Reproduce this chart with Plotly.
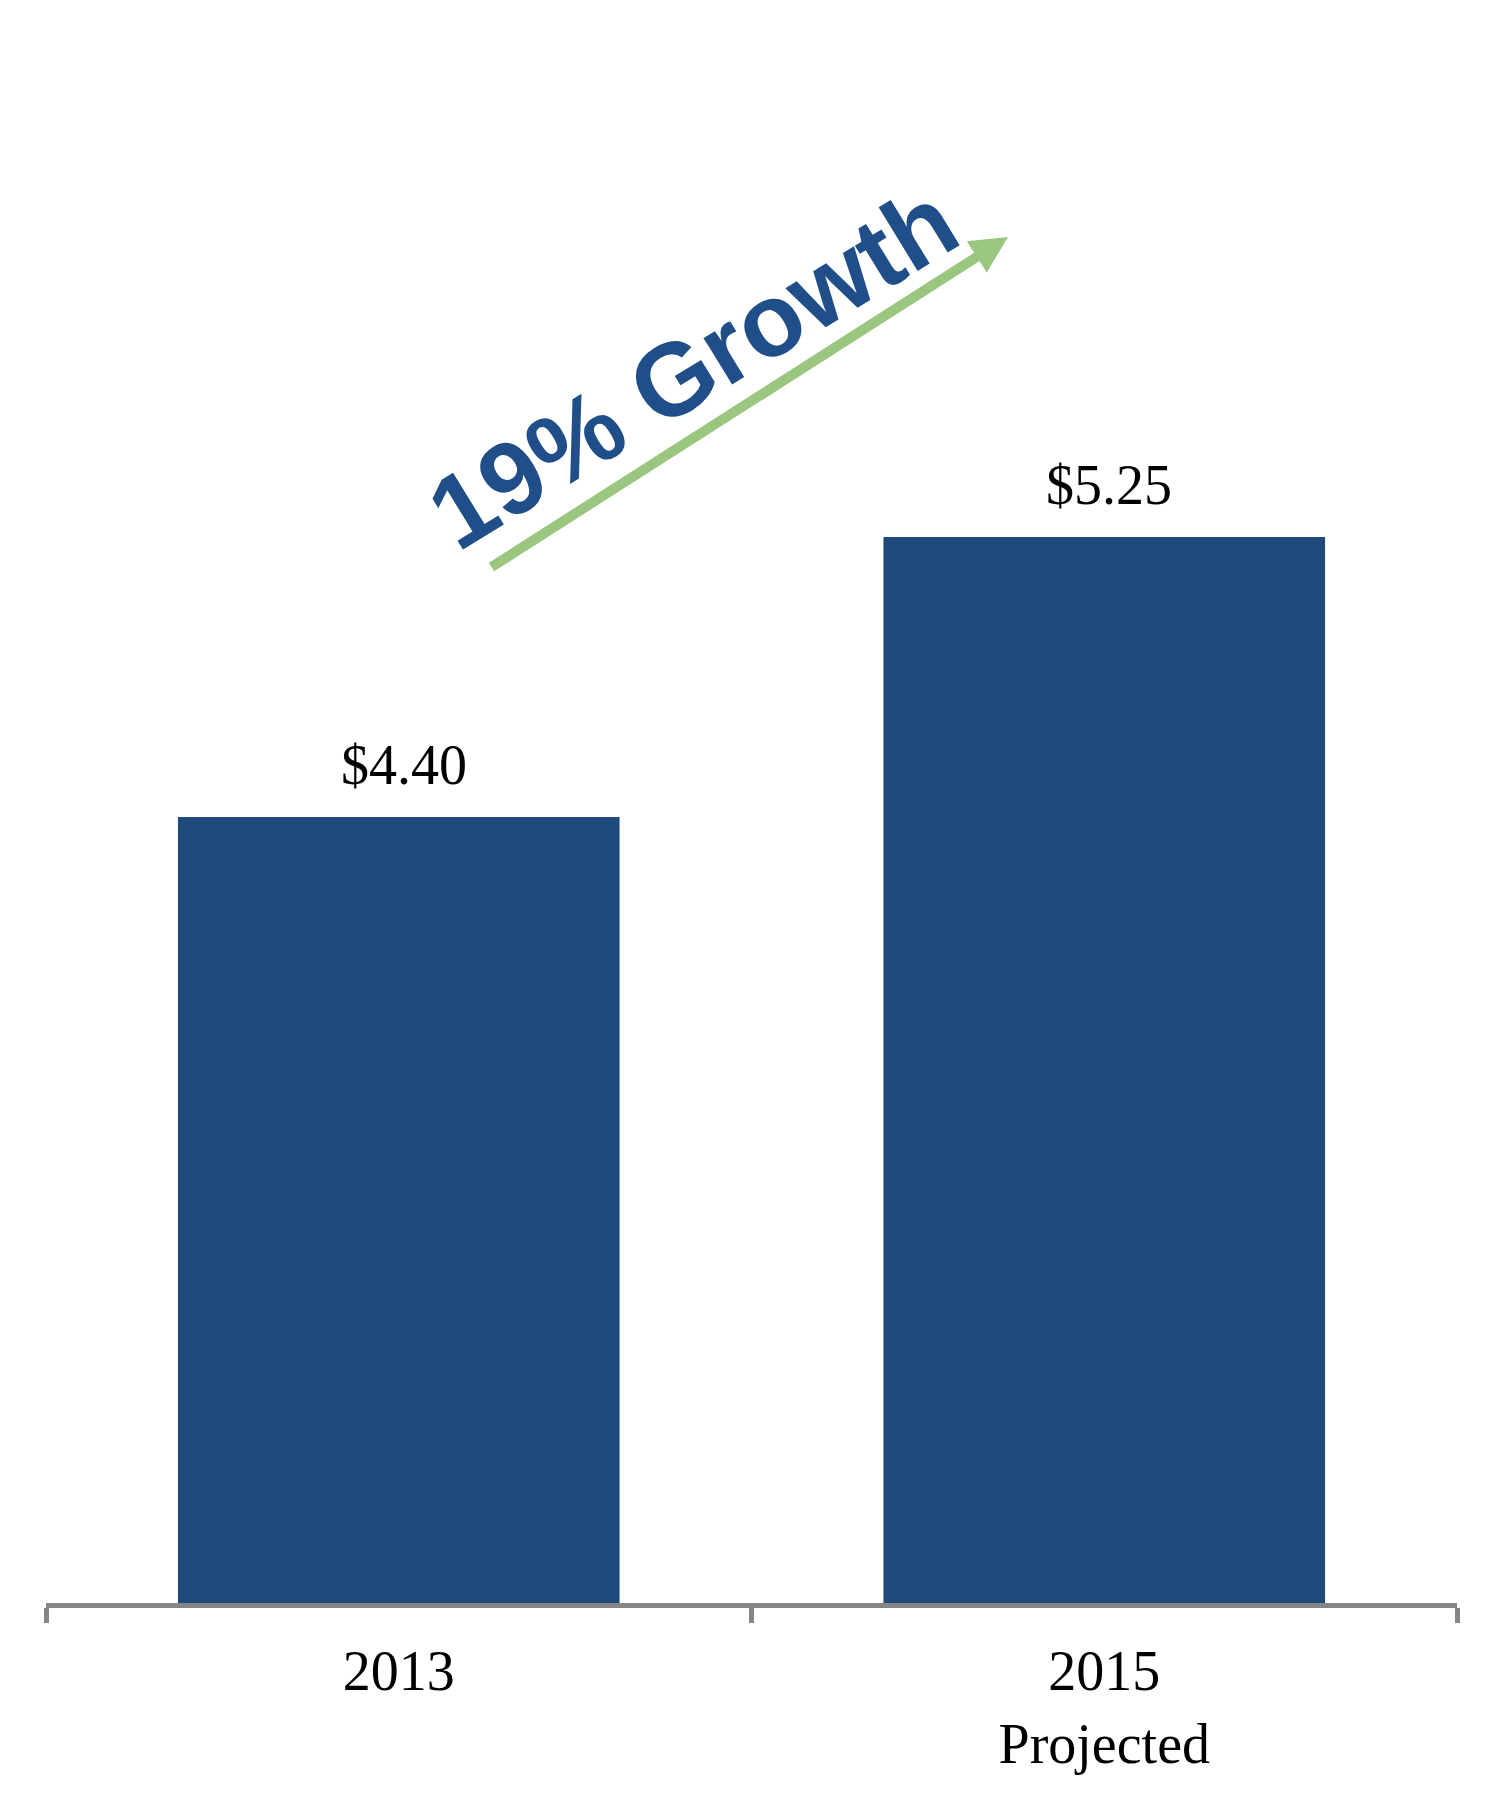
import plotly.graph_objects as go

# ---- data ----
categories = ["2013", "2015"]
tick_labels = ["2013", "2015<br>Projected"]
values = [4.40, 5.25]
value_labels = ["$4.40", "$5.25"]
growth_text = "19% Growth"

BAR_COLOR = "#214A7C"
TEXT_BLUE = "#1F4E89"
GREEN = "#9BC680"
AXIS_GRAY = "#858585"
SERIF = "Liberation Serif, Times New Roman, serif"
SANS = "Liberation Sans, Arial, sans-serif"

W, H = 1500, 1800
PAGE_OFF = 8  # default body margin of the html page
ML, MR, MT, MB = 38, 51, 92, 205

fig = go.Figure()
fig.add_trace(go.Bar(
    x=categories, y=values,
    marker=dict(color=BAR_COLOR, line=dict(width=0)),
    hoverinfo="skip",
))

# value labels above bars
for i, (v, t) in enumerate(zip(values, value_labels)):
    fig.add_annotation(x=i, y=v, xref="x", yref="y", text=t, showarrow=False,
                       yanchor="bottom", xanchor="center", yshift=19, xshift=5,
                       font=dict(family=SERIF, size=56, color="#000000"))

pw = W - ML - MR
ph = H - MT - MB
def px(xp):
    return (xp - PAGE_OFF - ML) / pw
def py(yp):
    return (H - MB - (yp - PAGE_OFF)) / ph

# growth arrow
tip = (1008, 237)
tail = (490, 568)
fig.add_annotation(x=px(tip[0]), y=py(tip[1]), xref="paper", yref="paper",
                   ax=tail[0] - tip[0], ay=tail[1] - tip[1],
                   axref="pixel", ayref="pixel", text="", showarrow=True,
                   arrowhead=2, arrowwidth=10, arrowsize=0.74,
                   arrowcolor=GREEN, standoff=0, startstandoff=0)

# growth text
fig.add_annotation(x=px(692), y=py(367), xref="paper", yref="paper",
                   text="<b>" + growth_text + "</b>", showarrow=False,
                   textangle=-31.5, xanchor="center", yanchor="middle",
                   font=dict(family=SANS, size=103, color=TEXT_BLUE))

fig.update_layout(
    width=W, height=H,
    margin=dict(l=ML, r=MR, t=MT, b=MB),
    paper_bgcolor="white", plot_bgcolor="white",
    showlegend=False,
    bargap=0.374,
    xaxis=dict(
        type="category", range=[-0.5, 1.5],
        tickmode="array", tickvals=categories, ticktext=tick_labels,
        tickson="boundaries", ticks="outside", ticklen=15, tickwidth=5,
        tickcolor=AXIS_GRAY, showline=True, linewidth=5, linecolor=AXIS_GRAY,
        showgrid=False, zeroline=False, ticklabelstandoff=15,
        tickfont=dict(family=SERIF, size=56, color="#000000"),
    ),
    yaxis=dict(range=[2.014, 6.577], visible=False, showgrid=False, zeroline=False),
)

fig.write_html("out.html")
